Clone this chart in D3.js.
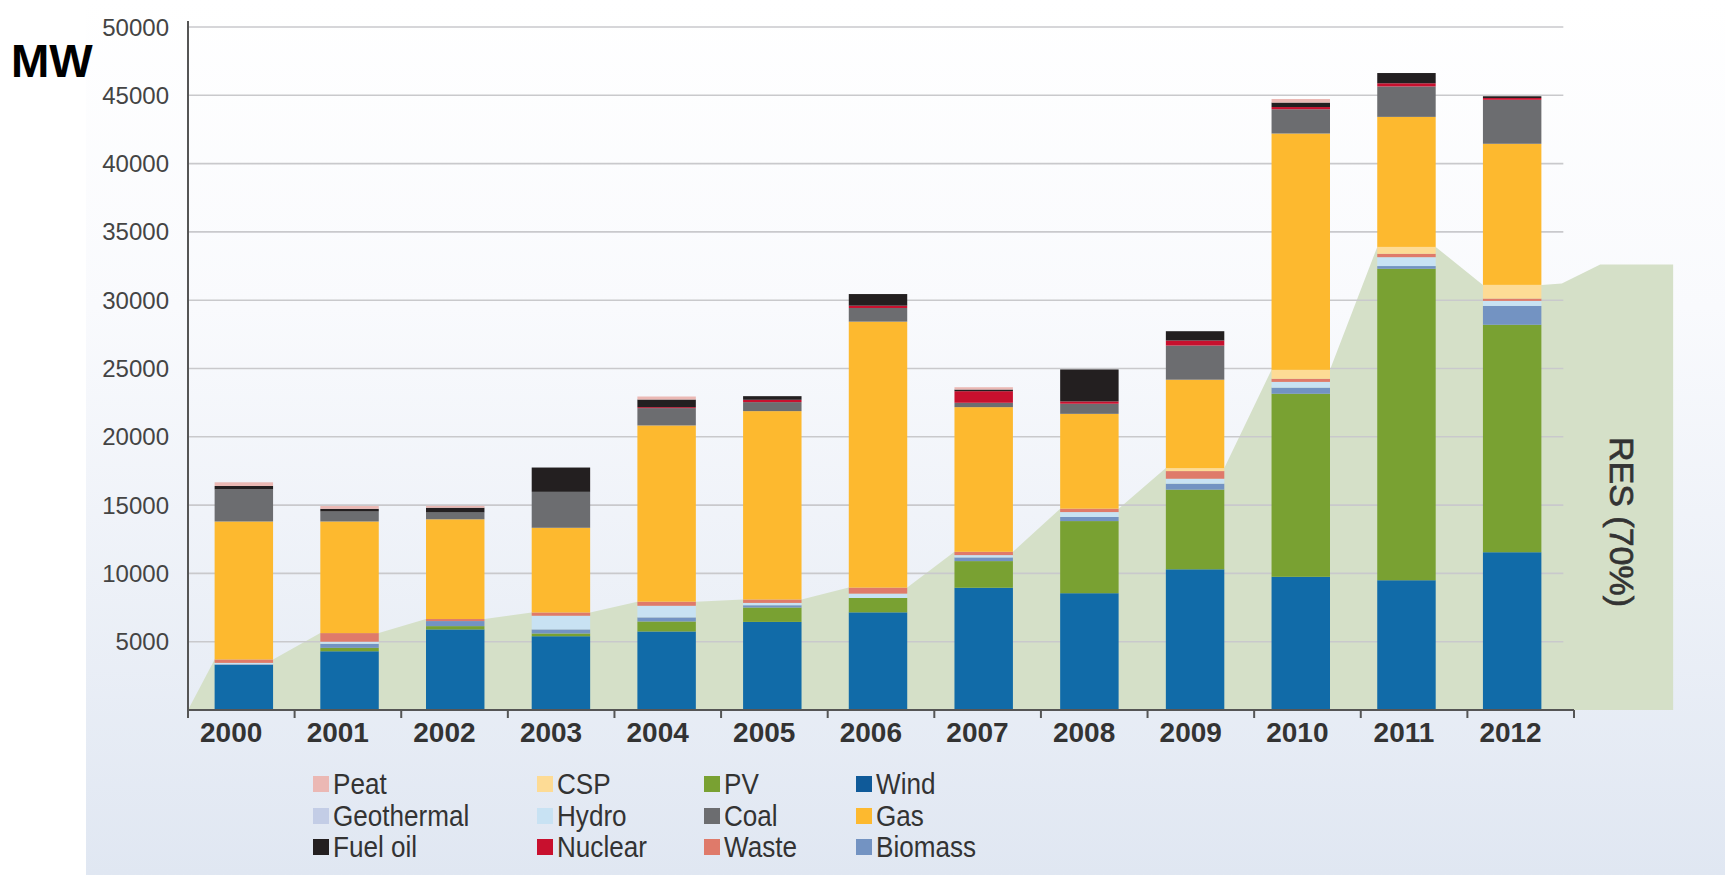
<!DOCTYPE html>
<html>
<head>
<meta charset="utf-8">
<script src="https://cdn.jsdelivr.net/npm/d3@7"></script>
<style>
  html, body { margin: 0; padding: 0; background: #fff; }
  svg { display: block; }
  text { font-family: "Liberation Sans", Arial, sans-serif; }
</style>
</head>
<body>
<svg id="chart" width="1725" height="875"></svg>
<script>
// installed capacity per year, MW
const years = [2000, 2001, 2002, 2003, 2004, 2005, 2006, 2007, 2008, 2009, 2010, 2011, 2012];

const wind       = [3300, 4300, 5900, 5400, 5750, 6450, 7150, 8950, 8550, 10300, 9750, 9500, 11550];
const pv         = [0, 250, 240, 200, 730, 1050, 1050, 1950, 5280, 5830, 13400, 22800, 16650];
const biomass    = [50, 300, 370, 300, 300, 170, 0, 270, 300, 440, 450, 200, 1380];
const hydro      = [100, 150, 0, 1000, 850, 170, 320, 170, 360, 360, 420, 650, 370];
const geothermal = [0, 0, 0, 0, 0, 0, 0, 0, 0, 0, 0, 0, 0];
const waste      = [250, 630, 150, 240, 300, 250, 440, 240, 250, 560, 230, 250, 170];
const csp        = [0, 0, 0, 0, 0, 0, 0, 0, 0, 220, 650, 500, 1000];
const gas        = [10100, 8170, 7300, 6200, 12900, 13790, 19470, 10590, 6940, 6470, 17300, 9520, 10330];
const coal       = [2350, 730, 500, 2630, 1270, 660, 1000, 320, 740, 2500, 1780, 2230, 3220];
const nuclear    = [0, 0, 0, 0, 70, 170, 170, 850, 170, 370, 160, 230, 130];
const fuelOil    = [250, 200, 350, 1780, 560, 265, 850, 120, 2340, 680, 330, 750, 130];
const peat       = [270, 200, 130, 0, 220, 0, 0, 170, 0, 0, 260, 0, 0];

// RES share continues to the right of the last bar (position in year slots, MW)
const resTailPos = [12.886, 13.246, 13.93, 13.93];
const resTailVal = [31230, 32620, 32620, 0];

const yTicks = [5000, 10000, 15000, 20000, 25000, 30000, 35000, 40000, 45000, 50000];

const legendCols = [
  ["Peat", "Geothermal", "Fuel oil"],
  ["CSP", "Hydro", "Nuclear"],
  ["PV", "Coal", "Waste"],
  ["Wind", "Gas", "Biomass"]
];

const seriesData = {
  "Wind": wind, "PV": pv, "Biomass": biomass, "Hydro": hydro, "Geothermal": geothermal,
  "Waste": waste, "CSP": csp, "Gas": gas, "Coal": coal, "Nuclear": nuclear,
  "Fuel oil": fuelOil, "Peat": peat
};
const stackOrder = ["Wind", "PV", "Biomass", "Hydro", "Geothermal", "Waste", "CSP",
                    "Gas", "Coal", "Nuclear", "Fuel oil", "Peat"];
const resKeys = ["Wind", "PV", "Biomass", "Hydro", "Geothermal", "Waste", "CSP"];

const colors = {
  "Wind": "#116ba8", "PV": "#79a132", "Biomass": "#7393c2", "Hydro": "#c8e2f3",
  "Geothermal": "#c3cde6", "Waste": "#df7a6a", "CSP": "#fddb95", "Gas": "#fdb92f",
  "Coal": "#6c6d70", "Nuclear": "#c8102e", "Fuel oil": "#231f20", "Peat": "#ebb8b4"
};
const legendColors = Object.assign({}, colors, { "Wind": "#0f5a99" });

const svg = d3.select("#chart");

// background
const defs = svg.append("defs");
const grad = defs.append("linearGradient").attr("id", "bg")
  .attr("x1", 0).attr("y1", 0).attr("x2", 0).attr("y2", 1);
grad.append("stop").attr("offset", "0%").attr("stop-color", "#ffffff");
grad.append("stop").attr("offset", "35%").attr("stop-color", "#f9fafd");
grad.append("stop").attr("offset", "100%").attr("stop-color", "#e0e7f2");
svg.append("rect").attr("x", 0).attr("y", 0).attr("width", 1725).attr("height", 875).attr("fill", "#fff");
svg.append("rect").attr("x", 86).attr("y", 0).attr("width", 1639).attr("height", 875).attr("fill", "url(#bg)");

// slots along the axis (ticks) and bars sit on a slightly narrower band
const xPos = d3.scaleLinear().domain([0, years.length]).range([188, 1574]);
const x = d3.scaleBand().domain(years.map(String)).range([191, 1565])
  .paddingInner(0.447).paddingOuter(0.2235);
const y = d3.scaleLinear().domain([0, 50000]).range([710, 27]);

const rows = years.map((yr, i) => {
  const r = { year: String(yr) };
  stackOrder.forEach(k => r[k] = seriesData[k][i]);
  return r;
});
const stacked = d3.stack().keys(stackOrder)(rows);

// RES area
const resTotals = rows.map(r => d3.sum(resKeys, k => r[k]));
const areaPts = [[xPos(0), 0]];
years.forEach((yr, i) => {
  areaPts.push([x(String(yr)), resTotals[i]]);
  areaPts.push([x(String(yr)) + x.bandwidth(), resTotals[i]]);
});
resTailPos.forEach((p, i) => areaPts.push([xPos(p), resTailVal[i]]));
const area = d3.area().x(d => d[0]).y0(y(0)).y1(d => y(d[1]));
svg.append("path").datum(areaPts).attr("d", area).attr("fill", "#d5e0c8");

// gridlines
svg.append("g").selectAll("line").data(yTicks).join("line")
  .attr("x1", xPos(0)).attr("x2", xPos(12.9))
  .attr("y1", d => y(d)).attr("y2", d => y(d))
  .attr("stroke", "#c9c9cc").attr("stroke-width", 1.6);

// bars
svg.append("g").selectAll("g").data(stacked).join("g")
  .attr("fill", d => colors[d.key])
  .selectAll("rect").data(d => d).join("rect")
  .attr("x", d => x(d.data.year))
  .attr("width", x.bandwidth())
  .attr("y", d => y(d[1]))
  .attr("height", d => Math.max(0, y(d[0]) - y(d[1])));

// axes
svg.append("line").attr("x1", xPos(0)).attr("x2", xPos(0)).attr("y1", y(0)).attr("y2", 21)
  .attr("stroke", "#555").attr("stroke-width", 2);
svg.append("line").attr("x1", xPos(0)).attr("x2", xPos(years.length)).attr("y1", y(0)).attr("y2", y(0))
  .attr("stroke", "#555").attr("stroke-width", 2);
svg.append("g").selectAll("line").data(d3.range(years.length + 1)).join("line")
  .attr("x1", d => xPos(d)).attr("x2", d => xPos(d))
  .attr("y1", y(0)).attr("y2", y(0) + 8)
  .attr("stroke", "#555").attr("stroke-width", 2);

svg.append("g").selectAll("text").data(yTicks).join("text")
  .attr("x", 169).attr("y", d => y(d))
  .attr("text-anchor", "end").attr("dominant-baseline", "central")
  .attr("font-size", 24).attr("fill", "#444")
  .text(d => d);

// year labels sit a bit left of the slot centre, as in the original
svg.append("g").selectAll("text").data(years).join("text")
  .attr("x", (d, i) => xPos(i + 0.405)).attr("y", 742)
  .attr("text-anchor", "middle")
  .attr("font-size", 28).attr("font-weight", "bold").attr("fill", "#333")
  .text(d => d);

svg.append("text").attr("x", 11).attr("y", 77)
  .attr("font-size", 46).attr("font-weight", "bold").attr("fill", "#000")
  .text("MW");

svg.append("text")
  .attr("transform", `translate(${xPos(13.45)},522) rotate(90)`)
  .attr("text-anchor", "middle").attr("dominant-baseline", "central")
  .attr("font-size", 34).attr("fill", "#333")
  .attr("stroke", "#333").attr("stroke-width", 0.7)
  .text("RES (70%)");

// legend
const colX = [313, 537, 704, 856];
const rowY = [784, 816, 847];
const legend = svg.append("g");
legendCols.forEach((col, ci) => {
  col.forEach((name, ri) => {
    const g = legend.append("g").attr("transform", `translate(${colX[ci]},${rowY[ri]})`);
    g.append("rect").attr("x", 0).attr("y", -8).attr("width", 16).attr("height", 16)
      .attr("fill", legendColors[name]);
    g.append("text").attr("transform", "translate(20,0) scale(0.9,1)")
      .attr("dominant-baseline", "central")
      .attr("font-size", 29).attr("fill", "#333")
      .text(name);
  });
});
</script>
</body>
</html>
